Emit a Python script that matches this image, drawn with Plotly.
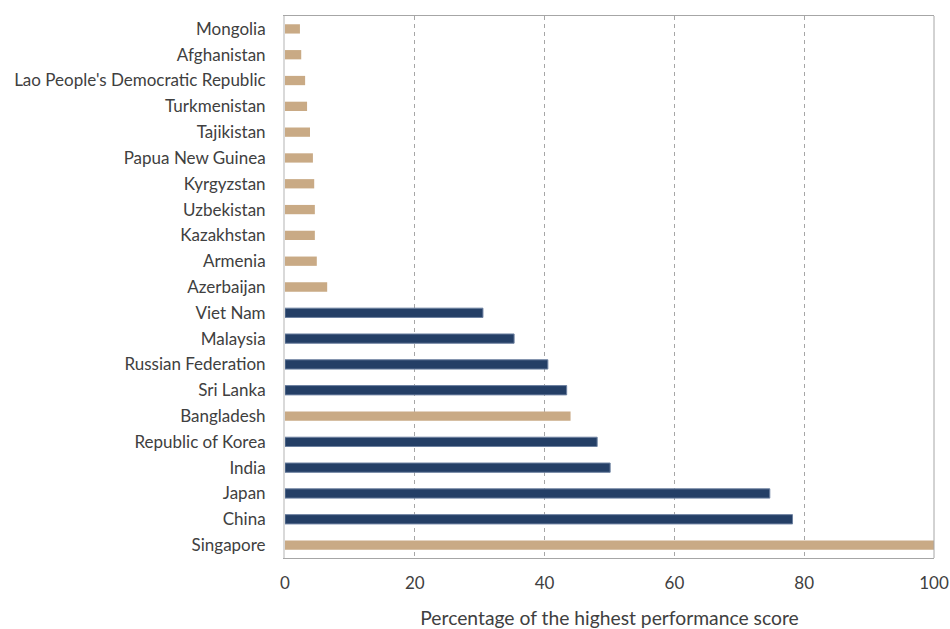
import plotly.graph_objects as go

countries = ["Singapore", "China", "Japan", "India", "Republic of Korea", "Bangladesh",
             "Sri Lanka", "Russian Federation", "Malaysia", "Viet Nam", "Azerbaijan",
             "Armenia", "Kazakhstan", "Uzbekistan", "Kyrgyzstan", "Papua New Guinea",
             "Tajikistan", "Turkmenistan", "Lao People's Democratic Republic",
             "Afghanistan", "Mongolia"]
scores = [100, 78.2, 74.7, 50.1, 48.1, 44.0, 43.4, 40.5, 35.3, 30.5, 6.5,
          4.9, 4.6, 4.6, 4.5, 4.3, 3.85, 3.4, 3.1, 2.5, 2.3]
group = ["tan", "navy", "navy", "navy", "navy", "tan", "navy", "navy", "navy", "navy", "tan",
         "tan", "tan", "tan", "tan", "tan", "tan", "tan", "tan", "tan", "tan"]
x_ticks = [0, 20, 40, 60, 80, 100]

colors = {"tan": "#c9aa85", "navy": "#243f66"}
outline = {"tan": "#c9aa85", "navy": "#6d81a0"}

fig = go.Figure()
for g in ["tan", "navy"]:
    xs = [v for v, gg in zip(scores, group) if gg == g]
    ys = [c for c, gg in zip(countries, group) if gg == g]
    fig.add_trace(go.Bar(
        x=xs, y=ys, orientation="h", width=0.36,
        marker=dict(color=colors[g], line=dict(color=outline[g], width=1 if g == "navy" else 0)),
        showlegend=False, hoverinfo="x+y"))

fig.update_layout(
    width=950, height=629,
    margin=dict(l=285, r=16, t=16, b=71, autoexpand=False),
    plot_bgcolor="white", paper_bgcolor="white",
    font=dict(family="Lato, Open Sans, sans-serif", size=17, color="#404040"),
    xaxis=dict(range=[0, 100], tickvals=x_ticks, ticks="", showgrid=True,
               gridcolor="#a6a6a6", griddash="4px,4px", gridwidth=1, zeroline=False,
               showline=True, linecolor="#a6a6a6", linewidth=1, mirror=True,
               ticklabelstandoff=10, automargin=False,
               title=dict(text="Percentage of the highest performance score",
                          font=dict(size=19.3, color="#404040"), standoff=20),
               tickfont=dict(size=17, color="#404040")),
    yaxis=dict(categoryorder="array", categoryarray=countries, range=[-0.5, 20.5],
               showline=True, linecolor="#d9d9d9", linewidth=2, ticks="",
               ticklabelstandoff=14, showgrid=False, zeroline=False, automargin=False,
               tickfont=dict(size=17, color="#404040")),
    shapes=[dict(type="line", xref="x domain", yref="y domain", x0=1, x1=1, y0=0, y1=1,
                 line=dict(color="#a6a6a6", width=1))],
)

fig.write_html("out.html", config={"displayModeBar": False},
               post_script="document.body.style.margin='0';")
